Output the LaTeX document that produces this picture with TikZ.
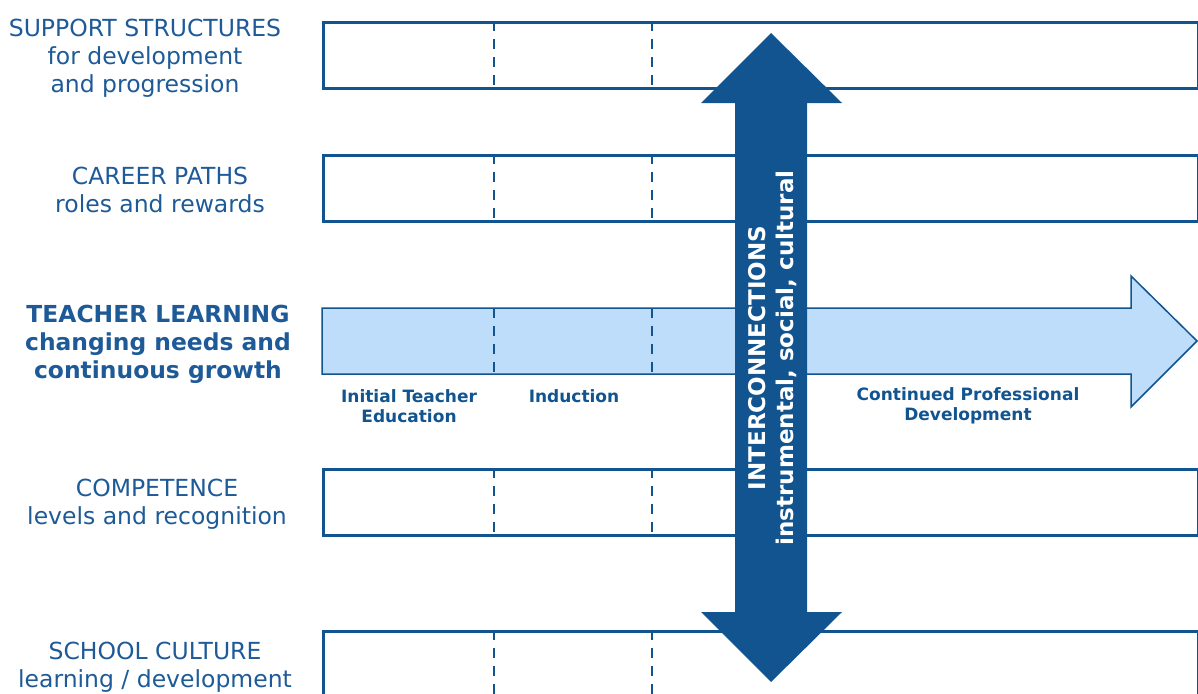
\documentclass[tikz,border=0pt]{standalone}
\usepackage{fontspec}
\setmainfont{DejaVu Sans}
\definecolor{dblue}{HTML}{11548F}
\definecolor{tblue}{HTML}{1D5A97}
\definecolor{lblue}{HTML}{BEDDFA}
\begin{document}
\begin{tikzpicture}[x=1pt,y=-1pt,
  rowbox/.style={draw=dblue, line width=3pt, fill=white, anchor=north west,
    minimum width=875pt, minimum height=66pt, inner sep=0pt},
  sepline/.style={draw=dblue, line width=2pt, dash pattern=on 10pt off 8pt},
  lefttext/.style={text=tblue, align=center, font=\fontsize{23.5}{28}\selectfont},
  leftbold/.style={text=tblue, align=center, font=\fontsize{23.4}{28}\selectfont\bfseries},
  phase/.style={text=dblue, align=center, font=\fontsize{17}{20}\selectfont\bfseries},
  arrowtext/.style={text=white, align=center, rotate=90, font=\fontsize{23}{28}\selectfont\bfseries}]
\useasboundingbox (0,0) rectangle (1198,693);
% row boxes
\node[rowbox] (b1) at (322,21) {};
\node[rowbox] (b2) at (322,154) {};
\node[rowbox] (b4) at (322,468) {};
\node[rowbox, minimum height=100pt] (b5) at (322,630) {};
% teacher learning arrow
\filldraw[fill=lblue, draw=dblue, line width=1.5pt]
  (322,308) -- (1131,308) -- (1131,276) -- (1197,341) -- (1131,407) -- (1131,374) -- (322,374) -- cycle;
% dashed separators
\foreach \x in {494,652}{
  \draw[sepline] (\x,21) -- (\x,89);
  \draw[sepline] (\x,154) -- (\x,222);
  \draw[sepline] (\x,308) -- (\x,378);
  \draw[sepline] (\x,468) -- (\x,536);
  \draw[sepline] (\x,630) -- (\x,700);
}
% vertical double arrow
\fill[dblue] (771,33) -- (842,103) -- (807,103) -- (807,612) -- (842,612) -- (771,682)
  -- (701,612) -- (735,612) -- (735,103) -- (701,103) -- cycle;
\node[arrowtext] (ic) at (773,358) {INTERCONNECTIONS\\instrumental, social, cultural};
% left labels
\node[lefttext] (l1) at (145,58) {SUPPORT STRUCTURES\\for development\\and progression};
\node[lefttext] (l2) at (160,190) {CAREER PATHS\\roles and rewards};
\node[leftbold] (l3) at (158,344) {TEACHER LEARNING\\changing needs and\\continuous growth};
\node[lefttext] (l4) at (157,504) {COMPETENCE\\levels and recognition};
\node[lefttext] (l5) at (155,667) {SCHOOL CULTURE\\learning / development};
% phase labels
\node[phase] (p1) at (409,406) {Initial Teacher\\Education};
\node[phase] (p2) at (574,396) {Induction};
\node[phase] (p3) at (968,406) {Continued Professional\\Development};
\end{tikzpicture}
\end{document}
